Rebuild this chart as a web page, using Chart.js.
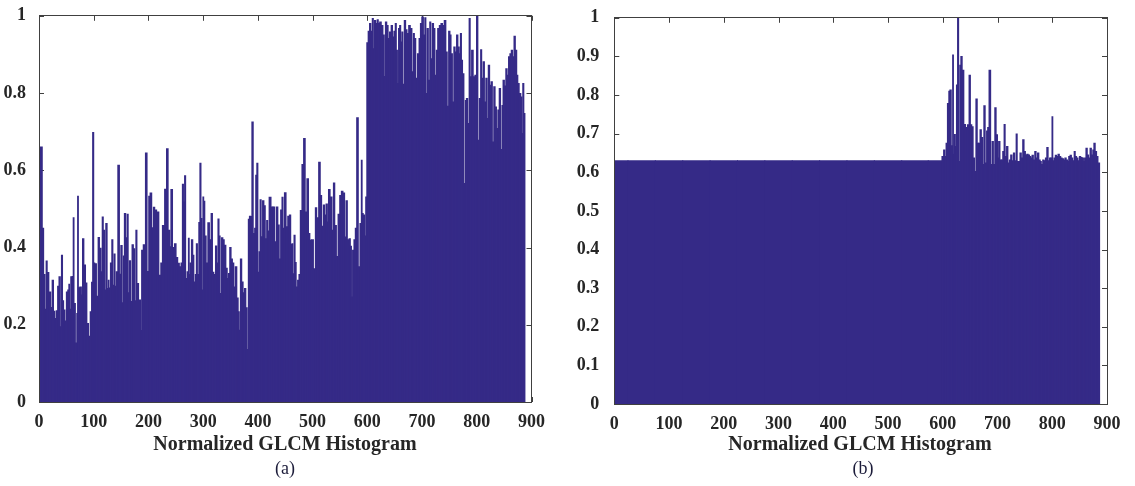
<!DOCTYPE html>
<html>
<head>
<meta charset="utf-8">
<script src="https://cdn.jsdelivr.net/npm/chart.js@4.4.1/dist/chart.umd.min.js"></script>
<style>
  html, body { margin:0; padding:0; background:#fff; width:1135px; height:486px; overflow:hidden; }
  canvas { position:absolute; top:0; }
  .lbl { position:absolute; transform:translateX(-50%); white-space:nowrap; color:#262626; font-family:'Liberation Serif','Times New Roman',serif; }
  .ttl { font-weight:bold; font-size:20px; }
  .cap { font-size:18px; color:#1c1c3a; }
</style>
</head>
<body>
<canvas id="chartA" width="560" height="486" style="left:0px;width:560px;height:486px"></canvas>
<canvas id="chartB" width="565" height="486" style="left:570px;width:565px;height:486px"></canvas>
<div class="lbl ttl" style="left:285px;top:432px">Normalized GLCM Histogram</div>
<div class="lbl cap" style="left:285px;top:458px">(a)</div>
<div class="lbl ttl" style="left:860px;top:432px">Normalized GLCM Histogram</div>
<div class="lbl cap" style="left:863px;top:458px">(b)</div>
<script>
// ---- axis ticks ----
const xTicks = [0, 100, 200, 300, 400, 500, 600, 700, 800, 900];
const yTicksA = [0, 0.2, 0.4, 0.6, 0.8, 1];
const yTicksB = [0, 0.1, 0.2, 0.3, 0.4, 0.5, 0.6, 0.7, 0.8, 0.9, 1];

// ---- panel (a): bin index where each bar run starts, and its height ----
const binsA = [
  0,5,7,10,12,14,16,20,23,25, 28,30,33,35,38,40,42,44,46,49,
  51,54,55,57,59,62,63,65,68,70, 71,73,76,79,80,84,86,89,92,95,
  97,99,101,103,107,109,112,115,116,119, 121,123,126,127,129,132,134,136,138,140,
  142,146,148,151,153,155,157,160,162,164, 166,169,171,174,176,178,180,184,187,188,
  193,196,199,202,204,208,210,213,217,221, 224,227,
  232,234,238,240,242,246,249,252, 255,258,261,263,265,267,269,272,274,275,
  277,280,282,284,287,288,291,293,295,297, 299,300,302,304,307,310,313,316,318,321,
  324,326,328,330,332,335,337,340,343,345, 347,350,352,355,357,360,363,365,367,369,
  372,374,377,379,382,383,386,388,390,393, 395,397,399,401,403,405,407,410,412,415,
  417,419,422,426,429,432,435,438,440,443, 445,447,450,453,456,
  459,461,463,465,467, 469,471,474,476,479,482,485,488,491,494,
  496,499,504,506,509,513,515,518,521,523, 526,528,530,534,537,539,542,545,548,551,
  554,557,560,562,565,568,570,572,574,577, 579,582,585,588,590,591,594,596,598,
  600,603,605,608,610,612,614,617,619,621, 624,627,630,632,634,637,639,642,645,647,
  650,652,654,656,658,660,662,664,666,669, 671,674,677,680,683,685,687,690,693,696,
  698,701,704,706,708,710,713,715,717,720, 722,725,727,730,733,736,739,742,745,747,
  750,752,754,757,759,762,764,767,769,771, 773,775,778,780,782,785,787,789,792,795,
  798,801,803,806,808,810,813,815,818,820, 822,825,827,830,832,835,837,840,842,845,
  847,849,852,854,857,859,862,864,867,869, 872,874,876,879,882,883,885,887
];
const valuesA = [
  0.37,0.66,0.45,0.33,0.24,0.365,0.335,0.285,0.245,0.315, 0.235,0.216,0.236,0.30,0.324,0.195,0.38,0.262,0.238,0.21,
  0.285,0.29,0.305,0.24,0.324,0.325,0.477,0.255,0.153,0.229, 0.533,0.296,0.298,0.277,0.423,0.355,0.308,0.203,0.17,0.234,
  0.31,0.698,0.36,0.358,0.274,0.426,0.398,0.337,0.479,0.445, 0.29,0.462,0.294,0.315,0.295,0.36,0.42,0.302,0.383,0.30,
  0.337,0.613,0.331,0.405,0.257,0.378,0.488,0.425,0.486,0.283, 0.366,0.26,0.407,0.397,0.262,0.445,0.307,0.264,0.185,0.393,
  0.407,0.645,0.338,0.533,0.541,0.451,0.504,0.497,0.492,0.328, 0.36,0.457,
  0.551,0.656,0.445,0.402,0.55,0.40,0.41,0.374, 0.359,0.35,0.36,0.564,0.518,0.586,0.32,0.337,0.424,0.33,
  0.36,0.42,0.38,0.311,0.33,0.41,0.33,0.465,0.618,0.475, 0.29,0.531,0.52,0.43,0.36,0.464,0.42,0.488,0.336,0.33,
  0.404,0.36,0.474,0.43,0.281,0.425,0.42,0.406,0.346,0.32, 0.333,0.40,0.37,0.36,0.298,0.35,0.269,0.234,0.186,0.37,
  0.311,0.283,0.294,0.244,0.136,0.473,0.481,0.48,0.725,0.436, 0.45,0.587,0.618,0.336,0.389,0.524,0.428,0.521,0.508,0.423,
  0.47,0.443,0.53,0.505,0.505,0.415,0.505,0.458,0.37,0.497, 0.53,0.45,0.542,0.454,0.481,
  0.484,0.408,0.41,0.332,0.432, 0.361,0.298,0.315,0.33,0.496,0.615,0.682,0.492,0.578,0.436,
  0.419,0.42,0.345,0.503,0.477,0.621,0.535,0.455,0.51,0.484, 0.513,0.466,0.55,0.531,0.445,0.567,0.457,0.377,0.486,0.535,
  0.546,0.541,0.427,0.521,0.42,0.423,0.403,0.272,0.393,0.42, 0.45,0.736,0.35,0.462,0.626,0.488,0.484,0.43,0.531,
  0.93,0.96,0.98,0.96,0.993,0.915,0.988,0.98,0.99,0.98, 0.984,0.975,0.95,0.843,0.984,0.975,0.941,0.958,0.975,0.945,
  0.96,0.98,0.911,0.825,0.967,0.975,0.932,0.958,0.823,0.988, 0.964,0.954,0.975,0.967,0.855,0.954,0.941,0.838,0.902,0.941,
  0.98,0.997,0.95,0.995,0.799,0.967,0.833,0.984,0.889,0.98, 0.967,0.846,0.911,0.967,0.975,0.98,0.975,0.988,0.906,0.766,
  0.96,0.95,0.902,0.777,0.919,0.906,0.95,0.919,0.902,0.954, 0.885,0.85,0.566,0.781,0.786,0.721,0.993,0.842,0.911,0.842,
  0.846,1.0,0.678,0.786,0.912,0.838,0.881,0.777,0.838,0.734, 0.872,0.82,0.829,0.673,0.816,0.764,0.708,0.756,0.812,0.654,
  0.768,0.833,0.818,0.863,0.846,0.894,0.902,0.911,0.894,0.947, 0.911,0.846,0.825,0.799,0.79,0.695,0.825,0.747
];

// ---- panel (b) ----
const binsB = [
  0,50,100,150,200,250,300,350,400,450, 500,550,597,
  600,603,605,607,610,612,614,617,619,620, 622,624,626,628,630,632,634,637,640,643,
  647,649,652,654,657,659,662,664,667,669, 672,674,676,679,681,683,686,689,691,694,
  696,699,701,703,706,708,711,713,715,718, 720,723,725,728,730,733,735,737,740,742,
  745,747,750,752,755,757,760,762,764,767, 769,772,774,777,779,781,784,786,789,791,
  794,796,799,800,802,804,807,809,812,814, 817,819,822,824,827,829,831,834,836,839,
  841,843,846,848,851,853,856,858,860,863, 865,868,870,873,875,877,880,882,885
];
const valuesB = [
  0.63,0.63,0.63,0.63,0.63,0.63,0.63,0.63,0.63,0.63, 0.63,0.63,0.63,
  0.641,0.658,0.641,0.675,0.778,0.81,0.813,0.669,0.904,0.647, 0.698,0.667,0.826,1.0,0.628,0.877,0.9,0.864,0.724,0.716,
  0.723,0.851,0.723,0.718,0.637,0.602,0.79,0.675,0.675,0.71, 0.69,0.62,0.772,0.624,0.707,0.716,0.864,0.62,0.68,0.62,
  0.767,0.697,0.637,0.68,0.632,0.632,0.654,0.724,0.641,0.667, 0.624,0.632,0.645,0.63,0.65,0.63,0.699,0.628,0.628,0.65,
  0.637,0.684,0.654,0.645,0.647,0.645,0.641,0.637,0.644,0.632, 0.654,0.637,0.65,0.632,0.628,0.62,0.632,0.63,0.637,0.664,
  0.63,0.637,0.637,0.744,0.63,0.637,0.644,0.641,0.647,0.641, 0.637,0.635,0.632,0.637,0.632,0.628,0.641,0.644,0.637,0.63,
  0.654,0.641,0.637,0.63,0.641,0.638,0.637,0.628,0.637,0.662, 0.645,0.637,0.662,0.645,0.658,0.675,0.654,0.641,0.624
];

const BAR_COLOR = '#352A87';
const AXIS_COLOR = '#404040';
const TICK_FONT = { family: "'Liberation Serif','Times New Roman',serif", size: 18, weight: 'bold' };
const fmt = v => String(Math.round(v * 100) / 100);

const framePlugin = {
  id: 'frame',
  beforeDatasetsDraw(chart) {
    const { ctx, chartArea: a, scales: { x, y } } = chart;
    ctx.save();
    ctx.strokeStyle = AXIS_COLOR;
    ctx.lineWidth = 1;
    ctx.beginPath();
    x.ticks.forEach(t => {
      const px = Math.round(x.getPixelForValue(t.value)) + 0.5;
      ctx.moveTo(px, a.top); ctx.lineTo(px, a.top + 5);
      ctx.moveTo(px, a.bottom); ctx.lineTo(px, a.bottom - 5);
    });
    y.ticks.forEach(t => {
      const py = Math.round(y.getPixelForValue(t.value)) + 0.5;
      ctx.moveTo(a.left, py); ctx.lineTo(a.left + 5, py);
      ctx.moveTo(a.right, py); ctx.lineTo(a.right - 5, py);
    });
    ctx.stroke();
    ctx.restore();
  },
  afterDatasetsDraw(chart) {
    const { ctx, chartArea: a } = chart;
    ctx.save();
    ctx.strokeStyle = AXIS_COLOR;
    ctx.lineWidth = 1;
    const l = Math.floor(a.left) + 0.5, r = Math.floor(a.right) + 0.5;
    const t = Math.floor(a.top) + 0.5, b = Math.floor(a.bottom) + 0.5;
    ctx.strokeRect(l, t, r - l, b - t);
    ctx.restore();
  }
};

function makeChart(id, bins, values, yTicks, yStep, yWidth, xHeight, padRight, yPad) {
  const n = Math.min(bins.length, values.length);
  const data = [];
  for (let i = 0; i < n; i++) data.push({ x: bins[i], y: values[i] });
  return new Chart(document.getElementById(id), {
    type: 'bar',
    data: { datasets: [{ data, backgroundColor: BAR_COLOR, borderWidth: 0,
      barThickness: 'flex', barPercentage: 1, categoryPercentage: 1, inflateAmount: 0.5 }] },
    options: {
      responsive: false, animation: false, devicePixelRatio: 1,
      layout: { padding: { left: 0, right: padRight, top: 15.5, bottom: 0 } },
      plugins: { legend: { display: false }, tooltip: { enabled: false } },
      scales: {
        x: {
          type: 'linear', offset: false, min: xTicks[0], max: xTicks[xTicks.length - 1],
          grid: { display: false, offset: false }, border: { display: false },
          afterFit(s) { s.height = xHeight; },
          afterBuildTicks(s) { s.ticks = xTicks.map(v => ({ value: v })); },
          ticks: { font: TICK_FONT, color: '#262626', padding: 2, maxRotation: 0, autoSkip: false, callback: fmt }
        },
        y: {
          min: 0, max: 1,
          grid: { display: false }, border: { display: false },
          afterFit(s) { s.width = yWidth; },
          afterBuildTicks(s) { s.ticks = yTicks.map(v => ({ value: v })); },
          ticks: { font: TICK_FONT, color: '#262626', padding: yPad, stepSize: yStep, autoSkip: false, callback: fmt }
        }
      }
    },
    plugins: [framePlugin]
  });
}

makeChart('chartA', binsA, valuesA, yTicksA, 0.2, 39, 84, 28.5, 5);
makeChart('chartB', binsB, valuesB, yTicksB, 0.1, 44.3, 82, 28, 7);
</script>
</body>
</html>
